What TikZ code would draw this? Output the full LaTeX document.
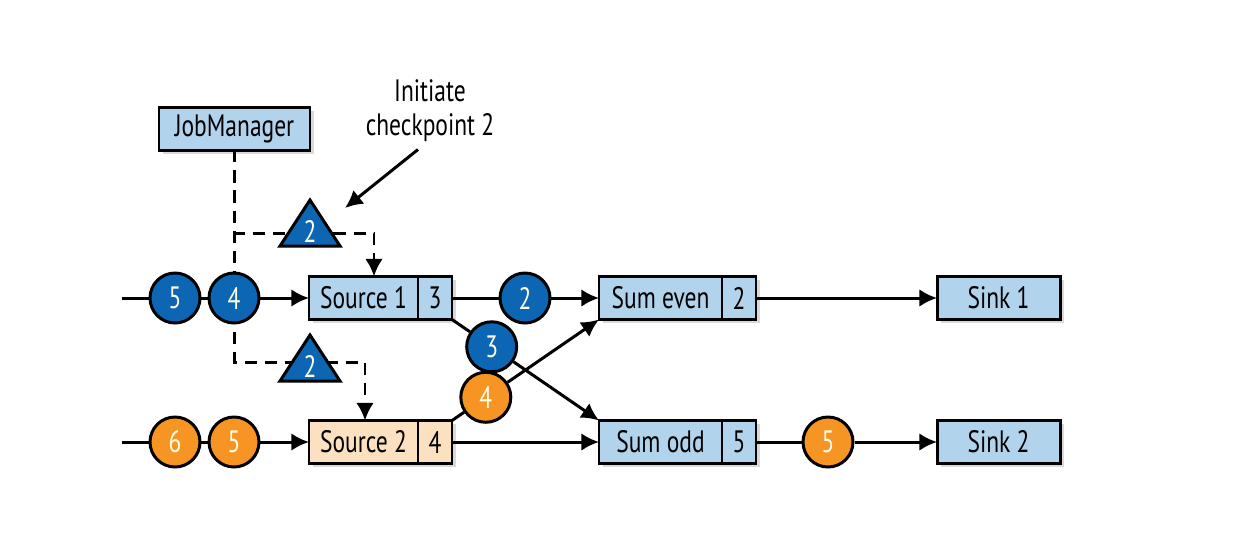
\documentclass[tikz,border=0pt]{standalone}
\usepackage{fontspec}
\setmainfont{PT Sans}[FakeStretch=0.76]
\usepackage{tikz}
\usetikzlibrary{positioning,shapes,arrows.meta,shadows}
\def\px{0.02cm}
\definecolor{opblue}{RGB}{178,211,236}
\definecolor{oppeach}{RGB}{252,225,192}
\definecolor{tokblue}{RGB}{12,102,180}
\definecolor{tokorange}{RGB}{246,149,36}
\tikzstyle{op}=[draw,rectangle,fill=opblue,minimum height=43*\px,inner sep=0pt,outer sep=0pt,
    drop shadow={shadow xshift=2pt,shadow yshift=-2pt,opacity=.3}]
\tikzstyle{src}=[minimum width=109*\px]
\tikzstyle{sum}=[minimum width=123*\px]
\tikzstyle{cnt}=[minimum width=34*\px]
\tikzstyle{token}=[draw,circle,minimum size=50*\px,inner sep=0pt,text=white!90!yellow]
\tikzstyle{btok}=[token,fill=tokblue]
\tikzstyle{otok}=[token,fill=tokorange]
\tikzstyle{barrier}=[draw,fill=tokblue,line join=miter]
\tikzstyle{signal}=[->,dash pattern=on 7pt off 4.5pt]
\newcommand{\newOp}[5]{\node[op,#5](#1) at (#4){#2};
    \node[op,#5,cnt,right=0pt of #1](#1c){#3};}
\newcommand{\newToken}[4]{\node[#4](#1) at (#3){#2};}
\newcommand{\newBarrier}[3]{\path[barrier] (#3) ++(0,-31) -- ++(30,46) -- ++(-60,0) -- cycle;
    \node[text=white!90!yellow](#1) at (#3){#2};}
\newcommand{\newTransition}[3]{\draw[#3] (#1) -- (#2);}

\begin{document}
\begin{tikzpicture}[x=\px,y=-\px,
    >={Latex[length=10pt,width=10pt]},
    line width=1.7pt,font=\fontsize{17.6}{19.5}\selectfont
    ]
    \useasboundingbox (0,0) rectangle (1245,539);
    \newOp{S1}{Source 1}{3}{363.5,298}{src}
    \newOp{S2}{Source 2}{4}{363.5,442}{src,fill=oppeach}
    \newOp{SE}{Sum even}{2}{660.5,298}{sum}
    \newOp{SO}{Sum odd}{5}{660.5,442}{sum}
    \node[op,sum](K1) at (998.5,298){Sink 1};
    \node[op,sum](K2) at (998.5,442){Sink 2};
    \node[op,minimum width=151*\px](JM) at (234.5,128.5){JobManager};
    \node[align=center](note) at (430,111){Initiate\\checkpoint 2};
    % barriers from the JobManager
    \coordinate (f1) at (374,233);
    \coordinate (f2) at (365,362);
    \draw[signal] (JM.south) |- (f1) -- (f1 |- S1.north);
    \draw[signal] (JM.south) |- (f2) -- (f2 |- S2.north);
    \newBarrier{t1}{2}{310,231}
    \newBarrier{t2}{2}{310,366}
    \coordinate (ptr) at (345,208);
    \draw[->] ([xshift=-12*\px]note.south) -- (ptr);
    % records in flight
    \newToken{b5}{5}{175,298}{btok}
    \newToken{b4}{4}{234,298}{btok}
    \newToken{o6}{6}{175,442}{otok}
    \newToken{o5}{5}{234,442}{otok}
    \newToken{b2}{2}{525,298}{btok}
    \newToken{r5}{5}{828,442}{otok}
    \path (S1c.south east) -- (SO.north west) node[btok,pos=.27](b3){3};
    \path (S2c.north east) -- (SE.south west) node[otok,pos=.23](o4){4};
    \coordinate (in1) at (122,298);
    \coordinate (in2) at (122,442);
    \newTransition{in1}{b5}{}
    \newTransition{b5}{b4}{}
    \newTransition{b4}{S1}{->}
    \newTransition{in2}{o6}{}
    \newTransition{o6}{o5}{}
    \newTransition{o5}{S2}{->}
    \newTransition{S1c}{b2}{}
    \newTransition{b2}{SE}{->}
    \newTransition{S1c.south east}{b3}{}
    \newTransition{b3}{SO.north west}{->}
    \newTransition{S2c.north east}{o4}{}
    \newTransition{o4}{SE.south west}{->}
    \newTransition{S2c}{SO}{->}
    \newTransition{SEc}{K1}{->}
    \newTransition{SOc}{r5}{}
    \newTransition{r5}{K2}{->}
\end{tikzpicture}
\end{document}
